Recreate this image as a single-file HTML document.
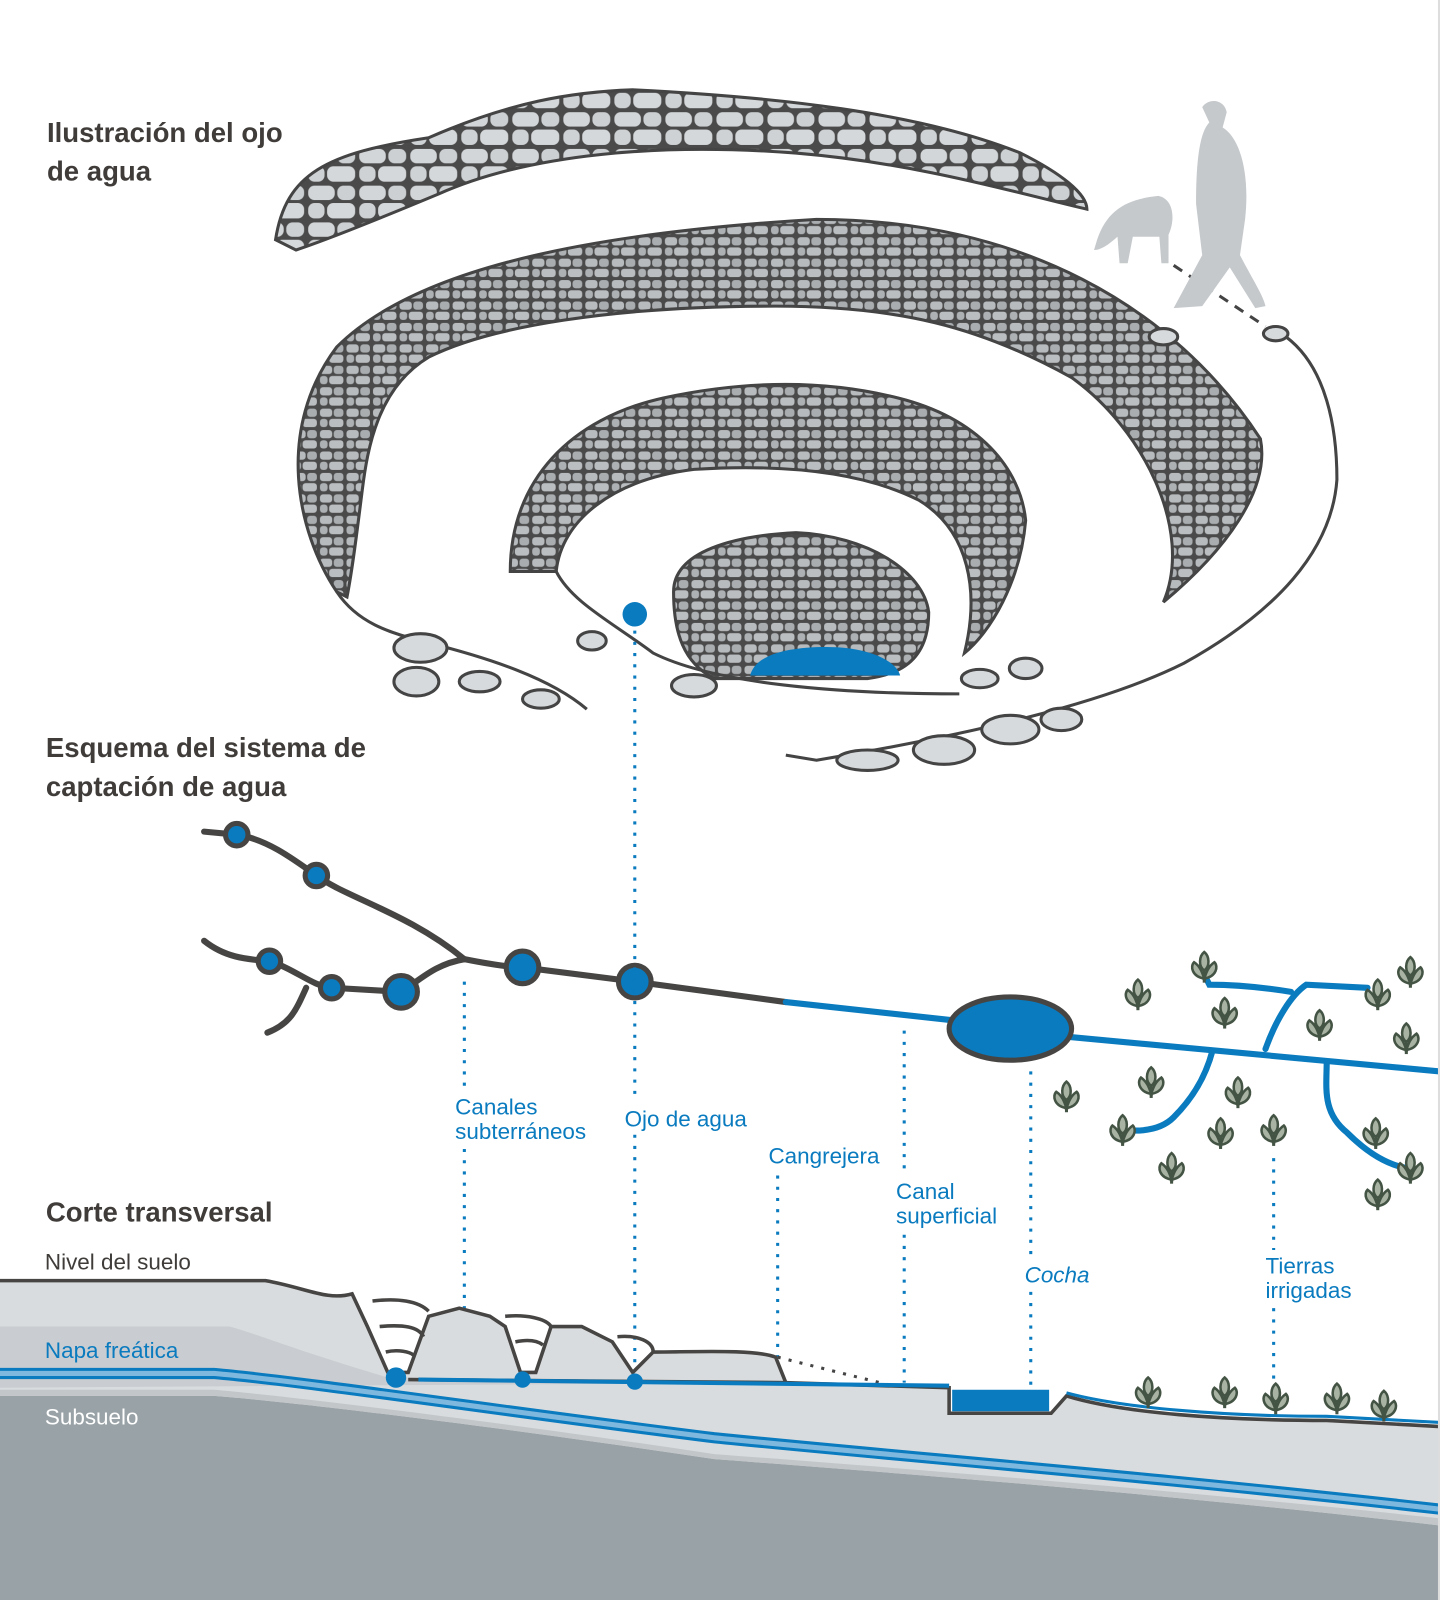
<!DOCTYPE html>
<html><head><meta charset="utf-8"><style>
html,body{margin:0;padding:0;background:#fff;}
svg{display:block;}
text{font-family:"Liberation Sans",sans-serif;}
.t{font-size:27px;font-weight:bold;fill:#3f3c3a;}
.b{font-size:22px;fill:#0a7bbf;}
</style></head><body>
<svg width="1440" height="1600" viewBox="0 0 1411 1568" preserveAspectRatio="none" xmlns="http://www.w3.org/2000/svg">
<defs>
<pattern id="st" width="26" height="21" patternUnits="userSpaceOnUse">
<rect width="26" height="21" fill="#4a4a4a"/>
<rect x="1.5" y="1.5" width="12" height="8" rx="3" fill="#b7bbbe"/>
<rect x="15" y="1.5" width="9.5" height="8" rx="3" fill="#a9adb0"/>
<rect x="1.5" y="11.5" width="7.5" height="8" rx="3" fill="#adb1b4"/>
<rect x="10.5" y="11.5" width="14" height="8" rx="3" fill="#bbbec1"/>
</pattern>
<pattern id="st2" width="50" height="36" patternUnits="userSpaceOnUse">
<rect width="50" height="36" fill="#4a4a4a"/>
<rect x="2" y="2" width="26" height="14" rx="6" fill="#d3d6d8"/>
<rect x="30.5" y="2" width="17.5" height="14" rx="6" fill="#ccd0d2"/>
<rect x="2" y="19" width="16" height="15" rx="6" fill="#cfd2d4"/>
<rect x="20.5" y="19" width="27.5" height="15" rx="6" fill="#d5d8da"/>
</pattern>
<g id="pl">
<path d="M0,18 L0,2" stroke="#445444" stroke-width="3"/>
<path d="M0,14 C-12,12 -14,2 -10,-2 C-4,2 -2,8 0,14 Z M0,14 C12,12 14,2 10,-2 C4,2 2,8 0,14 Z M0,6 C-6,2 -5,-8 0,-12 C5,-8 6,2 0,6Z" fill="#a9b3a4" stroke="#445444" stroke-width="2.5"/>
</g>
</defs>

<text class="t" x="46" y="139">Ilustración del ojo</text>
<text class="t" x="46" y="177">de agua</text>
<text class="t" x="45" y="742">Esquema del sistema de</text>
<text class="t" x="45" y="780">captación de agua</text>
<text class="t" x="45" y="1197">Corte transversal</text>

<path d="M270,235 C280,170 320,150 420,135 C500,100 560,90 620,88 C760,95 900,110 1000,150 C1040,170 1065,190 1065,205 C1000,190 900,160 780,150 C650,140 520,150 430,190 C370,215 320,235 290,245 Z" fill="url(#st2)" stroke="#444" stroke-width="3"/>
<path d="M330,580 C290,520 270,420 330,340 C400,270 550,230 800,215 C1000,215 1150,300 1235,430 C1245,480 1200,540 1140,590 C1170,520 1120,420 1050,370 C960,320 880,300 760,300 C600,300 480,320 420,350 C370,380 360,440 355,480 C350,520 345,560 340,585 Z" fill="url(#st)" stroke="#444" stroke-width="3"/>
<path d="M500,560 C500,470 560,410 650,390 C720,375 800,370 880,390 C960,410 1000,460 1005,510 C1000,570 970,620 945,640 C960,580 950,520 900,490 C840,460 760,455 680,460 C600,470 550,510 545,560 Z" fill="url(#st)" stroke="#444" stroke-width="3"/>
<path d="M660,580 C660,540 720,525 780,522 C850,525 905,560 910,600 C910,640 890,660 850,665 L700,665 C670,650 660,620 660,580 Z" fill="url(#st)" stroke="#444" stroke-width="3"/>
<path d="M735,662 C740,642 770,634 810,634 C850,634 878,647 882,662 Z" fill="#0a7bbf"/>
<g fill="none" stroke="#444" stroke-width="3">
<path d="M1150,260 L1240,320" stroke-dasharray="10,8"/>
<path d="M1260,330 C1300,360 1310,420 1310,470 C1305,540 1250,600 1160,650 C1080,690 950,720 800,745 L770,740"/>
<path d="M330,580 C350,610 380,620 420,630 C480,645 540,665 575,695"/>
<path d="M545,560 C560,590 600,610 640,640 C700,670 820,680 940,680"/>
</g>
<g fill="#d7dadc" stroke="#444" stroke-width="3">
<ellipse cx="412" cy="635" rx="26" ry="14"/><ellipse cx="408" cy="668" rx="22" ry="14"/><ellipse cx="470" cy="668" rx="20" ry="10"/><ellipse cx="530" cy="685" rx="18" ry="9"/>
<ellipse cx="580" cy="628" rx="14" ry="9"/><ellipse cx="680" cy="672" rx="22" ry="11"/><ellipse cx="960" cy="665" rx="18" ry="9"/><ellipse cx="1005" cy="655" rx="16" ry="10"/>
<ellipse cx="850" cy="745" rx="30" ry="10"/><ellipse cx="925" cy="735" rx="30" ry="14"/><ellipse cx="990" cy="715" rx="28" ry="14"/><ellipse cx="1040" cy="705" rx="20" ry="11"/>
<ellipse cx="1140" cy="330" rx="14" ry="8"/><ellipse cx="1250" cy="327" rx="12" ry="7"/>
</g>
<g fill="#c5c9cc">
<path d="M1075,235 C1085,205 1105,195 1135,192 C1150,195 1152,215 1145,230 L1145,258 L1138,258 L1136,232 L1110,232 L1105,258 L1097,258 L1095,232 C1088,238 1080,245 1072,245 Z"/>
<path d="M1178,105 C1185,95 1200,98 1202,110 L1198,125 C1215,135 1225,170 1220,215 L1215,250 C1228,275 1238,290 1240,300 L1230,302 L1205,262 L1178,300 L1150,302 L1178,250 L1172,200 C1172,160 1175,130 1185,120 Z"/>
</g>

<g fill="none" stroke="#474543" stroke-width="6" stroke-linecap="round">
<path d="M200,815 L232,818 C260,822 285,840 310,858 C340,880 400,895 455,940"/>
<path d="M200,922 C220,938 240,940 264,942 C290,950 305,966 325,968 L393,972 C410,962 425,945 455,940"/>
<path d="M300,968 C290,990 285,1003 262,1012"/>
<path d="M455,940 C480,945 500,948 512,948 L622,962 L770,982"/>
</g>
<g fill="none" stroke="#0a7bbf" stroke-width="6" stroke-linecap="round">
<path d="M770,982 L935,1000"/>
<path d="M1045,1016 L1411,1050"/>
<path d="M1188,1030 C1180,1060 1165,1080 1150,1095 C1140,1105 1125,1108 1112,1108"/>
<path d="M1240,1028 C1250,1000 1265,975 1280,965 L1340,968"/>
<path d="M1265,972 C1240,968 1210,965 1185,965 L1180,955"/>
<path d="M1300,1040 C1300,1065 1295,1090 1320,1110 C1340,1130 1360,1142 1380,1145"/>
</g>
<g stroke="#474543" stroke-width="5" fill="#0a7bbf">
<circle cx="232" cy="818" r="11"/><circle cx="310" cy="858" r="11"/><circle cx="264" cy="942" r="11"/><circle cx="325" cy="968" r="11"/>
<circle cx="393" cy="972" r="16"/><circle cx="512" cy="948" r="16"/><circle cx="622" cy="962" r="16"/>
<ellipse cx="990" cy="1008" rx="60" ry="31"/>
</g>
<circle cx="622" cy="602" r="12" fill="#0a7bbf"/>
<g stroke="#0a7bbf" stroke-width="3" stroke-dasharray="3,8" fill="none">
<path d="M622,618 V1080 M622,1112 V1355"/>
<path d="M455,962 V1066 M455,1126 V1345"/>
<path d="M762,1152 V1330"/>
<path d="M886,1010 V1150 M886,1210 V1355"/>
<path d="M1010,1050 V1230 M1010,1266 V1360"/>
<path d="M1248,1135 V1225 M1248,1282 V1360"/>
<path d="M762,1330 L870,1357" stroke="#444"/>
</g>
<g>
<use href="#pl" x="1115" y="972"/><use href="#pl" x="1180" y="945"/><use href="#pl" x="1382" y="950"/><use href="#pl" x="1350" y="972"/>
<use href="#pl" x="1200" y="990"/><use href="#pl" x="1293" y="1002"/><use href="#pl" x="1378" y="1015"/>
<use href="#pl" x="1045" y="1072"/><use href="#pl" x="1128" y="1058"/><use href="#pl" x="1213" y="1068"/>
<use href="#pl" x="1100" y="1105"/><use href="#pl" x="1196" y="1108"/><use href="#pl" x="1248" y="1105"/><use href="#pl" x="1348" y="1108"/>
<use href="#pl" x="1148" y="1142"/><use href="#pl" x="1382" y="1142"/><use href="#pl" x="1350" y="1168"/>
</g>

<text class="b" x="446" y="1092">Canales</text>
<text class="b" x="446" y="1116">subterráneos</text>
<text class="b" x="612" y="1104">Ojo de agua</text>
<text class="b" x="753" y="1140">Cangrejera</text>
<text class="b" x="878" y="1175">Canal</text>
<text class="b" x="878" y="1199">superficial</text>
<text class="b" x="1004" y="1257" font-style="italic">Cocha</text>
<text class="b" x="1240" y="1248">Tierras</text>
<text class="b" x="1240" y="1272">irrigadas</text>

<path d="M0,1255 L260,1255 C300,1262 320,1275 345,1268 L360,1300 L380,1345 L400,1345 L420,1290 L450,1282 L480,1290 L495,1300 L510,1345 L525,1345 L540,1300 L570,1300 L600,1315 L620,1345 L640,1325 C680,1325 740,1322 760,1330 L770,1355 L930,1360 L930,1385 L1030,1385 L1045,1368 C1100,1385 1200,1392 1300,1392 L1411,1398 V1568 H0 Z" fill="#d9dcde"/>
<path d="M0,1300 L225,1300 C260,1310 280,1320 380,1350 L770,1355 L0,1360 Z" fill="#c9ccd0"/>
<path d="M0,1368 L210,1368 C300,1375 500,1400 700,1430 C900,1445 1150,1465 1411,1495 V1568 H0 Z" fill="#99a2a7"/>
<path d="M0,1362 L210,1362 C300,1370 500,1395 700,1425 C900,1440 1150,1460 1411,1488 V1495 C1150,1465 900,1445 700,1430 C500,1400 300,1375 210,1368 L0,1368Z" fill="#c2c6c9"/>
<path d="M0,1346 H210 C300,1354 500,1384 700,1409 C900,1429 1150,1449 1411,1479" fill="none" stroke="#7fb8de" stroke-width="6"/>
<g fill="none" stroke="#0a7bbf" stroke-width="3">
<path d="M0,1342 H210 C300,1350 500,1380 700,1405 C900,1425 1150,1445 1411,1475"/>
<path d="M0,1350 H210 C300,1358 500,1388 700,1413 C900,1433 1150,1453 1411,1483"/>
</g>
<g fill="none" stroke="#474543" stroke-width="3.5">
<path d="M0,1255 L260,1255 C300,1262 320,1275 345,1268 L360,1300 L380,1345 L400,1345 L420,1290 L450,1282 L480,1290 L495,1300 L510,1345 L525,1345 L540,1300 L570,1300 L600,1315 L620,1345 L640,1325 C680,1325 740,1322 760,1330 L770,1355"/>
<path d="M365,1275 C390,1272 410,1275 420,1285 M372,1300 C395,1298 410,1300 415,1310 M378,1325 C390,1322 402,1325 405,1328"/>
<path d="M495,1290 C515,1288 535,1292 540,1300 M505,1315 C520,1312 528,1315 532,1318"/>
<path d="M605,1310 C625,1308 640,1315 640,1325"/>
<path d="M400,1352 L770,1355"/>
</g>
<path d="M770,1355 L930,1360 L930,1385 L1030,1385 L1045,1368 C1100,1385 1200,1392 1300,1392 L1411,1398" fill="none" stroke="#474543" stroke-width="3.5"/>
<path d="M410,1352 L930,1358" stroke="#0a7bbf" stroke-width="4"/>
<path d="M1045,1365 C1100,1380 1200,1388 1300,1388 L1411,1394" fill="none" stroke="#0a7bbf" stroke-width="3"/>
<path d="M933,1362 H1028 L1028,1383 H933Z" fill="#0a7bbf"/>
<g fill="#0a7bbf"><circle cx="388" cy="1350" r="10"/><circle cx="512" cy="1352" r="8"/><circle cx="622" cy="1354" r="8"/></g>
<use href="#pl" x="1125" y="1362"/><use href="#pl" x="1200" y="1362"/><use href="#pl" x="1250" y="1368"/><use href="#pl" x="1310" y="1368"/><use href="#pl" x="1356" y="1375"/>

<text x="44" y="1244" font-size="22" fill="#3f3c3a">Nivel del suelo</text>
<text class="b" x="44" y="1331">Napa freática</text>
<text x="44" y="1396" font-size="22" fill="#fff">Subsuelo</text>
<rect x="1409" y="0" width="2" height="1568" fill="#ddd"/>
</svg>
</body></html>
